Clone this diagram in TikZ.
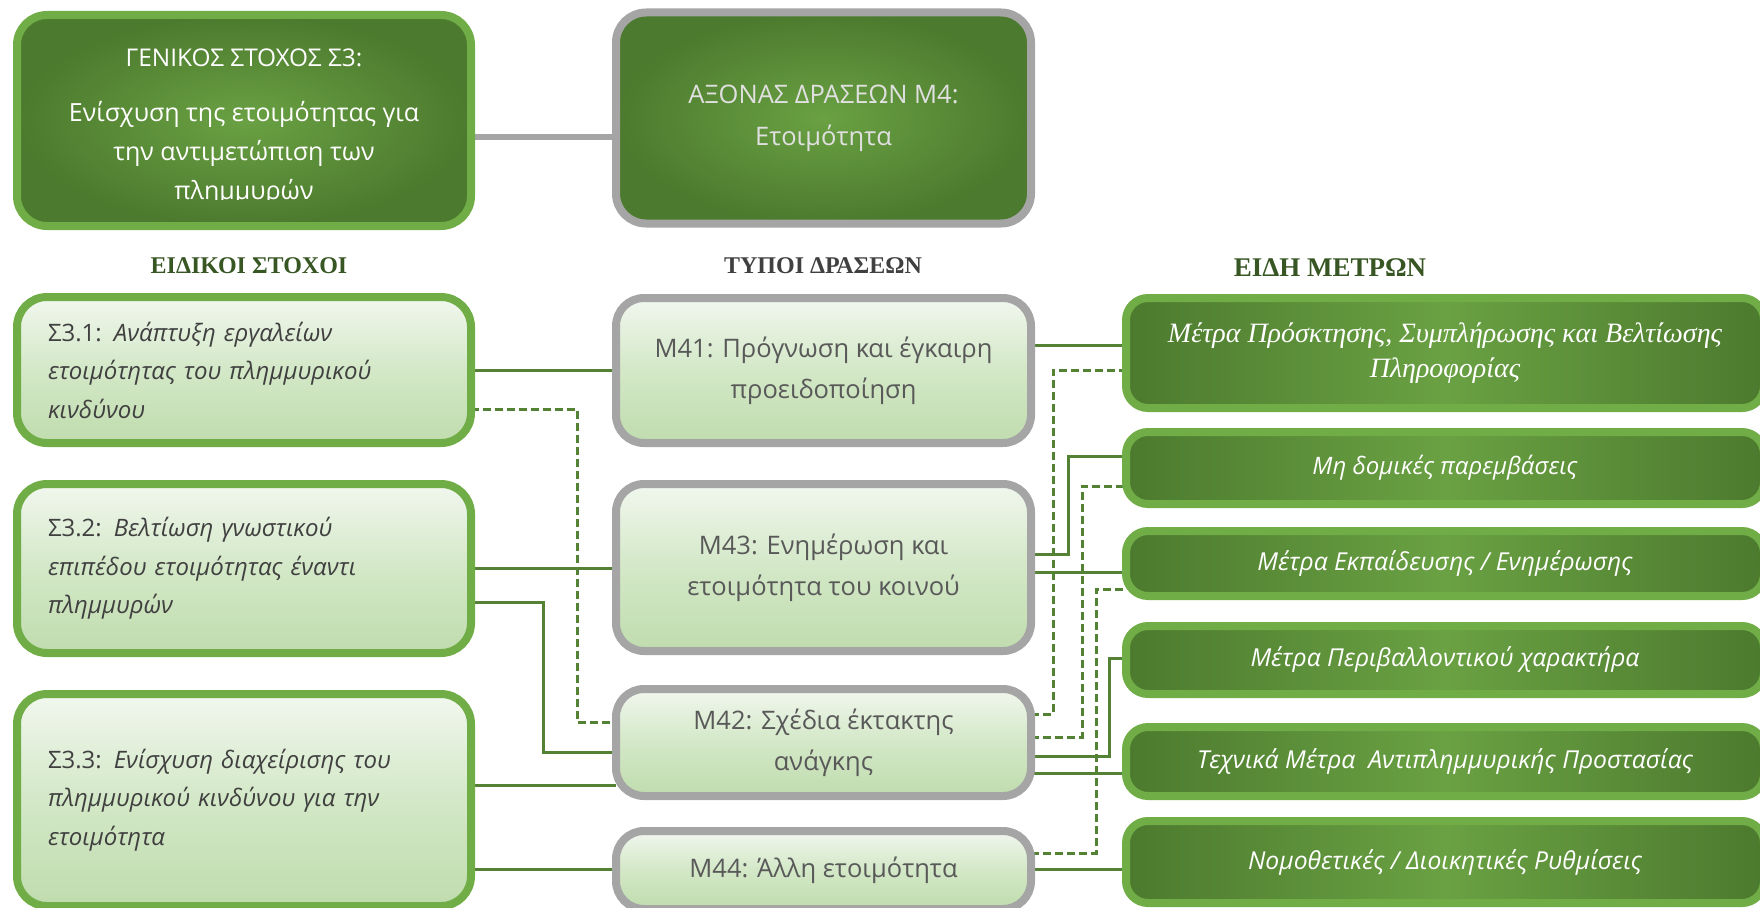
\documentclass[tikz,border=0pt]{standalone}
\usepackage{fontspec}
\setmainfont{Open Sans}
\newfontfamily\headfont{Liberation Serif}
\usetikzlibrary{backgrounds}

\definecolor{leafgreen}{HTML}{70AD47}
\definecolor{darkleaf}{HTML}{4C7A2E}
\definecolor{midleaf}{HTML}{6AA143}
\definecolor{linkgreen}{HTML}{548235}
\definecolor{framegray}{HTML}{A5A5A5}
\definecolor{paletop}{HTML}{F1F7EE}
\definecolor{palemid}{HTML}{D3E8C7}
\definecolor{palebot}{HTML}{C0DCAE}
\definecolor{headgreen}{HTML}{375623}
\definecolor{textgray}{HTML}{595959}
\definecolor{aimtext}{HTML}{404040}

\newcommand{\boxfont}[2]{\fontsize{#1}{#2}\selectfont}

\begin{document}
\begin{tikzpicture}[
            x=1pt, y=-1pt,
            every node/.style={font=\boxfont{24}{38.5}, outer sep=0pt},
            topbox/.style={
                    rectangle,
                    rounded corners=30pt,
                    line width=8pt,
                    inner color=midleaf,
                    outer color=darkleaf,
                    minimum height=211pt
                },
            aimbox/.style={
                    rectangle,
                    rounded corners=30pt,
                    draw=leafgreen,
                    line width=8pt,
                    top color=paletop,
                    bottom color=palebot,
                    middle color=palemid,
                    text=aimtext,
                    text width=392pt,
                    inner xsep=31pt,
                    align=left
                },
            actbox/.style={
                    rectangle,
                    rounded corners=28pt,
                    draw=framegray,
                    line width=8pt,
                    top color=paletop,
                    bottom color=palebot,
                    middle color=palemid,
                    text=textgray,
                    minimum width=415pt,
                    align=center,
                    font=\boxfont{25.5}{41}
                },
            measbox/.style={
                    rectangle,
                    rounded corners=22pt,
                    draw=leafgreen,
                    line width=8pt,
                    left color=darkleaf,
                    right color=darkleaf,
                    middle color=midleaf,
                    text=white,
                    minimum width=638pt,
                    align=center,
                    font=\boxfont{24.7}{35}\itshape
                },
            colhead/.style={
                    font=\headfont\boxfont{24}{28}\bfseries
                },
            link/.style={
                    draw=linkgreen,
                    line width=3pt
                },
            dlink/.style={
                    link,
                    dash pattern=on 8pt off 4pt
                },
            tie/.style={
                    draw=framegray,
                    line width=6pt
                }
            ]

            \clip (0,0) rectangle (1760,907);

            % Kouti stoxou kai axona
            \node (s3) [topbox, draw=leafgreen, minimum width=454pt] at (244,120.5) {};
            \node (m4) [topbox, draw=framegray, minimum width=415pt, text=white!88!black, align=center,
                        font=\boxfont{25.5}{42}] at (823.5,118)
                {ΑΞΟΝΑΣ ΔΡΑΣΕΩΝ Μ4:\\Ετοιμότητα};
            \begin{scope}
                \clip (19,19) rectangle (470,199);
                \node (s3text) [text=white, align=center, font=\boxfont{25}{39}] at (244,127)
                    {{\boxfont{24.4}{39}ΓΕΝΙΚΟΣ ΣΤΟΧΟΣ Σ3:}\\[16pt]Ενίσχυση της ετοιμότητας για\\την αντιμετώπιση των\\πλημμυρών};
            \end{scope}

            % Epikefalides
            \node (headaim) [colhead, text=headgreen] at (249,266) {ΕΙΔΙΚΟΙ ΣΤΟΧΟΙ};
            \node (headact) [colhead, text=aimtext] at (823,266) {ΤΥΠΟΙ ΔΡΑΣΕΩΝ};
            \node (headmeas) [colhead, text=headgreen, font=\headfont\boxfont{27}{30}\bfseries] at (1330,268) {ΕΙΔΗ ΜΕΤΡΩΝ};

            % Eidikoi stoxoi
            \node (s31) [aimbox, minimum height=146pt] at (244,370)
                {Σ3.1: \textit{Ανάπτυξη εργαλείων}\\\textit{ετοιμότητας του πλημμυρικού}\\\textit{κινδύνου}};
            \node (s32) [aimbox, minimum height=169pt] at (244,568.5)
                {Σ3.2: \textit{Βελτίωση γνωστικού}\\\textit{επιπέδου ετοιμότητας έναντι}\\\textit{πλημμυρών}};
            \node (s33) [aimbox, minimum height=212pt] at (244,800)
                {Σ3.3: \textit{Ενίσχυση διαχείρισης του}\\\textit{πλημμυρικού κινδύνου για την}\\\textit{ετοιμότητα}};

            % Typoi draseon
            \node (m41) [actbox, minimum height=145pt] at (823.5,370.5) {Μ41: Πρόγνωση και έγκαιρη\\προειδοποίηση};
            \node (m43) [actbox, minimum height=167pt] at (823.5,567.5) {Μ43: Ενημέρωση και\\ετοιμότητα του κοινού};
            \node (m42) [actbox, minimum height=107pt] at (823.5,742.5) {Μ42: Σχέδια έκτακτης\\ανάγκης};
            \node (m44) [actbox, minimum height=78pt] at (823.5,870) {Μ44: Άλλη ετοιμότητα};

            % Eidh metron
            \node (r1) [measbox, minimum height=110pt, font=\headfont\boxfont{28}{35}\itshape] at (1445,353)
                {Μέτρα Πρόσκτησης, Συμπλήρωσης και Βελτίωσης\\Πληροφορίας};
            \node (r2) [measbox, minimum height=72pt, font=\boxfont{24}{35}\itshape] at (1445,468) {Μη δομικές παρεμβάσεις};
            \node (r3) [measbox, minimum height=65pt] at (1445,563.5) {Μέτρα Εκπαίδευσης / Ενημέρωσης};
            \node (r4) [measbox, minimum height=68pt] at (1445,660) {Μέτρα Περιβαλλοντικού χαρακτήρα};
            \node (r5) [measbox, minimum height=69pt] at (1445,761.5) {Τεχνικά Μέτρα\ \ Αντιπλημμυρικής Προστασίας};
            \node (r6) [measbox, minimum height=82pt] at (1445,862) {Νομοθετικές / Διοικητικές Ρυθμίσεις};

            % Grammes
            \begin{scope}[on background layer]
                \draw [tie] (s3.east |- 0,137) -- (m4.west |- 0,137);

                \draw [link] (s31.east |- 0,370) -- (m41.west |- 0,370);
                \draw [dlink] (s31.east |- 0,409) -| (577,722) -- (m42.west |- 0,722);
                \draw [link] (s32.east |- 0,568) -- (m43.west |- 0,568);
                \draw [link] (s32.east |- 0,602) -| (543,752) -- (m42.west |- 0,752);
                \draw [link] (s33.east |- 0,785) -- (m42.west |- 0,785);
                \draw [link] (s33.east |- 0,869) -- (m44.west |- 0,869);

                \draw [link] (m41.east |- 0,345) -- (r1.west |- 0,345);
                \draw [dlink] (m42.east |- 0,714) -| (1053,370) -- (r1.west |- 0,370);
                \draw [link] (m43.east |- 0,554) -| (1068,456) -- (r2.west |- 0,456);
                \draw [dlink] (m42.east |- 0,737) -| (1082,486) -- (r2.west |- 0,486);
                \draw [link] (m43.east |- 0,572) -- (r3.west |- 0,572);
                \draw [dlink] (m44.east |- 0,853) -| (1096,589) -- (r3.west |- 0,589);
                \draw [link] (m42.east |- 0,756) -| (1109,658) -- (r4.west |- 0,658);
                \draw [link] (m42.east |- 0,773) -- (r5.west |- 0,773);
                \draw [link] (m44.east |- 0,869) -- (r6.west |- 0,869);
            \end{scope}

        \end{tikzpicture}
\end{document}
